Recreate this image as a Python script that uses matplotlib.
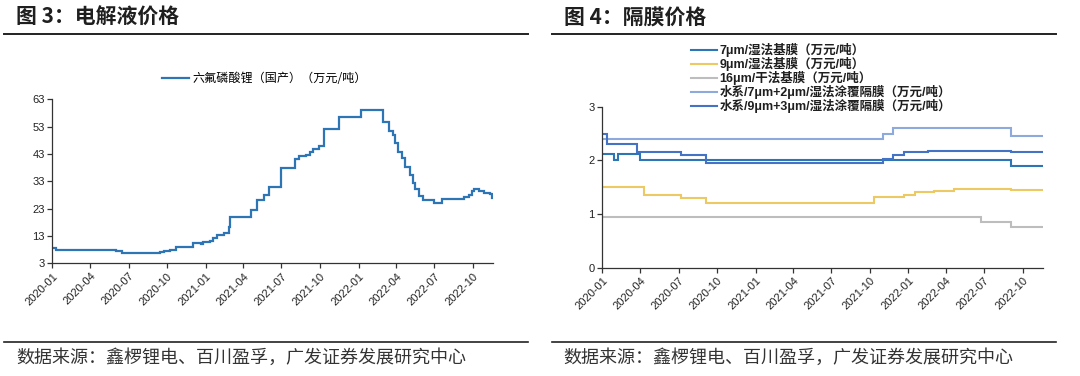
import matplotlib

matplotlib.use("Agg")
import matplotlib.dates as mdates
import matplotlib.pyplot as plt
import pandas as pd
from matplotlib.lines import Line2D

plt.rcParams["font.family"] = ["Liberation Sans", "Noto Sans CJK SC", "DejaVu Sans"]

CJK = ["Noto Sans CJK SC", "DejaVu Sans"]
MIXED = ["Liberation Sans", "Noto Sans CJK SC", "DejaVu Sans"]
TEXT_DARK = "#1F1F1F"

# ---- data (weekly prices as step breakpoints) ----
START_DATE = "2020-01-01"
END_DATE = "2022-11-18"

# 六氟磷酸锂(国产) 万元/吨
lipf6_dates = [
    "2020-01-01", "2020-01-11", "2020-03-17", "2020-06-02", "2020-06-15",
    "2020-09-02", "2020-09-14", "2020-09-24", "2020-10-07", "2020-10-23",
    "2020-12-01", "2020-12-22", "2020-12-25", "2021-01-11", "2021-01-19",
    "2021-01-27", "2021-02-15", "2021-02-25", "2021-03-01", "2021-04-19",
    "2021-05-04", "2021-05-20", "2021-06-01", "2021-06-30", "2021-08-02",
    "2021-08-11", "2021-08-29", "2021-09-06", "2021-09-14", "2021-09-28",
    "2021-10-11", "2021-11-15", "2022-01-07", "2022-03-01", "2022-03-14",
    "2022-03-24", "2022-03-28", "2022-04-06", "2022-04-15", "2022-04-23",
    "2022-05-05", "2022-05-10", "2022-05-16", "2022-05-25", "2022-06-04",
    "2022-06-29", "2022-07-20", "2022-08-25", "2022-09-10", "2022-09-22",
    "2022-09-28", "2022-10-04", "2022-10-16", "2022-10-28", "2022-11-10",
    "2022-11-15",
]
lipf6_price = [
    8.5, 8.0, 7.8, 7.5, 6.7,
    6.9, 7.1, 7.5, 7.9, 8.9,
    10.4, 10.1, 10.7, 11.3, 12.1,
    13.4, 14.2, 16.2, 19.8, 22.4,
    26.2, 27.9, 30.8, 37.9, 41.2,
    42.3, 42.6, 43.7, 44.7, 45.9,
    52.3, 56.4, 59.0, 54.8, 51.4,
    49.9, 46.9, 43.9, 41.4, 38.4,
    35.3, 32.3, 30.2, 27.6, 26.0,
    25.0, 26.5, 26.7, 27.3, 28.1,
    29.4, 30.2, 29.4, 28.7, 28.2,
    26.8,
]

# 隔膜 万元/吨
wet_7um_dates = ["2020-01-01", "2020-01-29", "2020-02-07", "2020-04-01", "2022-09-02"]
wet_7um_price = [2.11, 2.0, 2.11, 2.0, 1.9]

wet_9um_dates = ["2020-01-01", "2020-04-09", "2020-07-08", "2020-09-04", "2021-10-10",
                 "2021-12-22", "2022-01-18", "2022-03-04", "2022-04-19", "2022-09-02"]
wet_9um_price = [1.5, 1.35, 1.3, 1.2, 1.31, 1.36, 1.41, 1.43, 1.47, 1.45]

dry_16um_dates = ["2020-01-01", "2022-06-24", "2022-09-02"]
dry_16um_price = [0.95, 0.85, 0.75]

coat_7_2_dates = ["2020-01-01", "2021-11-01", "2021-11-25", "2022-09-02"]
coat_7_2_price = [2.4, 2.5, 2.6, 2.45]

coat_9_3_dates = ["2020-01-01", "2020-01-11", "2020-03-23", "2020-07-08", "2020-09-04",
                  "2021-11-01", "2021-11-25", "2021-12-22", "2022-02-16", "2022-09-02"]
coat_9_3_price = [2.5, 2.3, 2.15, 2.1, 1.95, 2.03, 2.1, 2.15, 2.17, 2.15]

separator_series = [
    ("7μm/湿法基膜（万元/吨）", wet_7um_dates, wet_7um_price, "#2E75B6"),
    ("9μm/湿法基膜（万元/吨）", wet_9um_dates, wet_9um_price, "#EDC964"),
    ("16μm/干法基膜（万元/吨）", dry_16um_dates, dry_16um_price, "#BDBDBD"),
    ("水系/7μm+2μm/湿法涂覆隔膜（万元/吨）", coat_7_2_dates, coat_7_2_price, "#8EAADC"),
    ("水系/9μm+3μm/湿法涂覆隔膜（万元/吨）", coat_9_3_dates, coat_9_3_price, "#4472C4"),
]

quarter_ticks = pd.date_range("2020-01-01", "2022-10-01", freq="QS")


def step_line(ax, dates, values, color, label, lw=1.6):
    """Draw a step series that holds its last value until END_DATE."""
    x = list(pd.to_datetime(dates)) + [pd.Timestamp(END_DATE)]
    y = list(values) + [values[-1]]
    ax.plot(x, y, drawstyle="steps-post", color=color, lw=lw, label=label,
            solid_joinstyle="miter")


def style_axes(ax, yticks):
    ax.set_xlim(pd.Timestamp(START_DATE), pd.Timestamp(END_DATE))
    ax.set_ylim(yticks[0], yticks[-1])
    ax.set_yticks(yticks)
    ax.set_xticks(quarter_ticks)
    ax.xaxis.set_major_formatter(mdates.DateFormatter("%Y-%m"))
    for lab in ax.get_xticklabels():
        lab.set_rotation(45)
        lab.set_ha("right")
        lab.set_rotation_mode("anchor")
    ax.spines["top"].set_visible(False)
    ax.spines["right"].set_visible(False)
    for side in ("left", "bottom"):
        ax.spines[side].set_color("#333333")
        ax.spines[side].set_linewidth(0.9)
    ax.tick_params(direction="out", length=3.5, width=0.9, color="#333333",
                   labelsize=8, labelcolor="#222222", pad=2)


def panel_frame(fig, x0, x1, title):
    """Title, top rule, bottom rule and source note for one panel."""
    fig.text(x0 + 0.011, 0.953, title, family=CJK, fontsize=15, fontweight="bold",
             color=TEXT_DARK, ha="left", va="center")
    fig.add_artist(Line2D([x0, x1], [0.909, 0.909], transform=fig.transFigure,
                          color="#222222", lw=1.4))
    fig.add_artist(Line2D([x0, x1], [0.090, 0.090], transform=fig.transFigure,
                          color="#222222", lw=1.2))
    fig.text(x0 + 0.011, 0.048, "数据来源：鑫椤锂电、百川盈孚，广发证券发展研究中心",
             family=CJK, fontsize=13, color="#333333", ha="left", va="center")


fig = plt.figure(figsize=(10.8, 3.76), dpi=100)
fig.patch.set_facecolor("white")

# ---- left: electrolyte ----
ax1 = fig.add_axes([0.0484, 0.2997, 0.4081, 0.4362])
step_line(ax1, lipf6_dates, lipf6_price, "#2E75B6", "六氟磷酸锂（国产）（万元/吨）", lw=1.6)
style_axes(ax1, list(range(3, 64, 10)))
ax1.legend(loc="center", bbox_to_anchor=(0.245, 0.79), bbox_transform=fig.transFigure,
           frameon=False, prop={"family": CJK, "size": 8.7}, handlelength=2.2,
           handletextpad=0.3, borderpad=0)

panel_frame(fig, 0.004, 0.489, "图 3：电解液价格")

# ---- right: separator ----
ax2 = fig.add_axes([0.5577, 0.2880, 0.4078, 0.4282])
for label, dates, values, color in separator_series:
    step_line(ax2, dates, values, color, label, lw=1.5)
style_axes(ax2, [0, 1, 2, 3])
leg = ax2.legend(loc="upper left", bbox_to_anchor=(0.634, 0.902),
                 bbox_transform=fig.transFigure, frameon=False,
                 prop={"family": MIXED, "size": 9, "weight": "bold"},
                 handlelength=2.1, handletextpad=0.2, labelspacing=0.0, borderpad=0)
for txt in leg.get_texts():
    txt.set_color(TEXT_DARK)

panel_frame(fig, 0.511, 0.978, "图 4：隔膜价格")

fig.savefig("out.png", dpi=100, facecolor="white")
